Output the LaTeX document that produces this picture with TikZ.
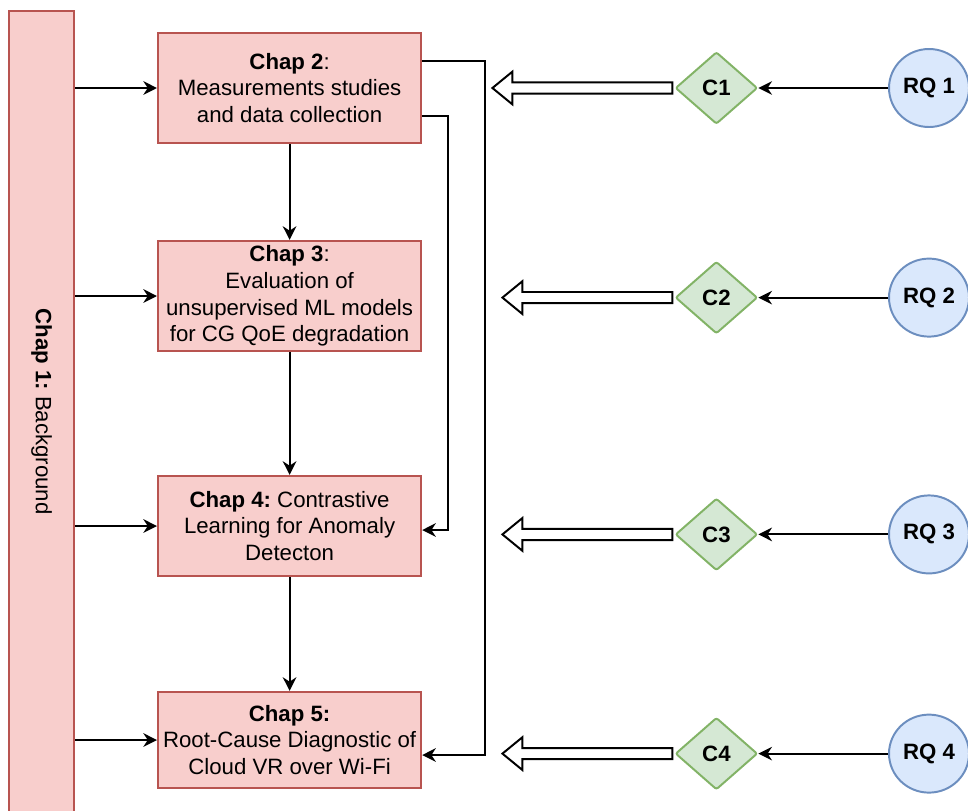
\documentclass[tikz,border=0pt]{standalone}
\usepackage{fontspec}
\setmainfont{Liberation Sans}
\usetikzlibrary{arrows.meta,shapes.geometric}
\frenchspacing

\definecolor{chapfill}{HTML}{F8CECC}
\definecolor{chapline}{HTML}{B85450}
\definecolor{contfill}{HTML}{D5E8D4}
\definecolor{contline}{HTML}{82B366}
\definecolor{rqfill}{HTML}{DAE8FC}
\definecolor{rqline}{HTML}{6C8EBF}

\begin{document}
\begin{tikzpicture}[line width=1.4pt,>={Stealth[length=3.4mm,width=3.4mm,inset=1.1mm]},
  chapbox/.style={rectangle,draw=chapline,fill=chapfill,line width=1.6pt,minimum width=6.575cm,align=center,inner sep=1pt,font=\fontsize{15.8}{19}\selectfont},
  contrib/.style={diamond,draw=contline,fill=contfill,line width=1.4pt,rounded corners=1.5pt,minimum width=2.05cm,minimum height=1.8cm,inner sep=0pt,font=\fontsize{15.8}{19}\selectfont\bfseries},
  rq/.style={ellipse,draw=rqline,fill=rqfill,line width=1.4pt,minimum width=2cm,minimum height=1.95cm,inner sep=0pt,font=\fontsize{15.8}{19}\selectfont\bfseries},
  hollow/.style={draw=black,fill=white,line width=1.4pt,line join=miter}]
  \useasboundingbox (0,0) rectangle (24.2,-20.25);
  % ============ CHAP 1 (barra izquierda) ============
  \node[chapbox,minimum width=1.625cm,minimum height=20.025cm] (bar) at (1.04,-10.29)
    {\rotatebox{-90}{\textbf{Chap 1:} Background}};
  % ============ CAPITULOS ============
  \node[chapbox,minimum height=2.75cm] (chap2) at (7.24,-2.2)
    {\textbf{Chap 2}:\\Measurements studies\\and data collection};
  \node[chapbox,minimum height=2.75cm] (chap3) at (7.24,-7.4)
    {\textbf{Chap 3}:\\Evaluation of\\unsupervised ML models\\for CG QoE degradation};
  \node[chapbox,minimum height=2.5cm] (chap4) at (7.24,-13.15)
    {\textbf{Chap 4:} Contrastive\\Learning for Anomaly\\Detecton};
  \node[chapbox,minimum height=2.4cm] (chap5) at (7.24,-18.5)
    {\textbf{Chap 5:}\\Root-Cause Diagnostic of\\Cloud VR over Wi-Fi};
  % ============ CONTRIBUCIONES ============
  \node[contrib] (c1) at (17.91,-2.2){C1};
  \node[contrib] (c2) at (17.91,-7.44){C2};
  \node[contrib] (c3) at (17.91,-13.36){C3};
  \node[contrib] (c4) at (17.91,-18.84){C4};
  % ============ PREGUNTAS ============
  \node[rq] (rq1) at (23.225,-2.2){RQ 1};
  \node[rq] (rq2) at (23.225,-7.44){RQ 2};
  \node[rq] (rq3) at (23.225,-13.36){RQ 3};
  \node[rq] (rq4) at (23.225,-18.84){RQ 4};
  % ---------- barra -> capitulos ----------
  \draw[->] (bar.east |- chap2.west)--(chap2.west);
  \draw[->] (bar.east |- chap3.west)--(chap3.west);
  \draw[->] (bar.east |- chap4.west)--(chap4.west);
  \draw[->] (bar.east |- chap5.west)--(chap5.west);
  % ---------- cadena de capitulos ----------
  \draw[->] (chap2.south)--(chap3.north);
  \draw[->] (chap3.south)--(chap4.north);
  \draw[->] (chap4.south)--(chap5.north);
  \draw[->] ([yshift=0.675cm]chap2.east)--++(1.575,0) |- ([yshift=-0.375cm]chap5.east);
  \draw[->] ([yshift=-0.7cm]chap2.east)--++(0.65,0) |- ([yshift=-0.1cm]chap4.east);
  % ---------- RQ -> C ----------
  \draw[->] (rq1.west)--(c1.east);
  \draw[->] (rq2.west)--(c2.east);
  \draw[->] (rq3.west)--(c3.east);
  \draw[->] (rq4.west)--(c4.east);
  % ---------- flechas huecas ----------
  \draw[hollow] ([xshift=-0.05cm]c1.west) ++(0,0.14)--++(-4.0,0)--++(0,0.27)--++(-0.5,-0.41)--++(0.5,-0.41)--++(0,0.27)--++(4.0,0)--cycle;
  \draw[hollow] ([xshift=-0.05cm]c2.west) ++(0,0.14)--++(-3.75,0)--++(0,0.27)--++(-0.5,-0.41)--++(0.5,-0.41)--++(0,0.27)--++(3.75,0)--cycle;
  \draw[hollow] ([xshift=-0.05cm]c3.west) ++(0,0.14)--++(-3.75,0)--++(0,0.27)--++(-0.5,-0.41)--++(0.5,-0.41)--++(0,0.27)--++(3.75,0)--cycle;
  \draw[hollow] ([xshift=-0.05cm]c4.west) ++(0,0.14)--++(-3.75,0)--++(0,0.27)--++(-0.5,-0.41)--++(0.5,-0.41)--++(0,0.27)--++(3.75,0)--cycle;
\end{tikzpicture}
\end{document}
